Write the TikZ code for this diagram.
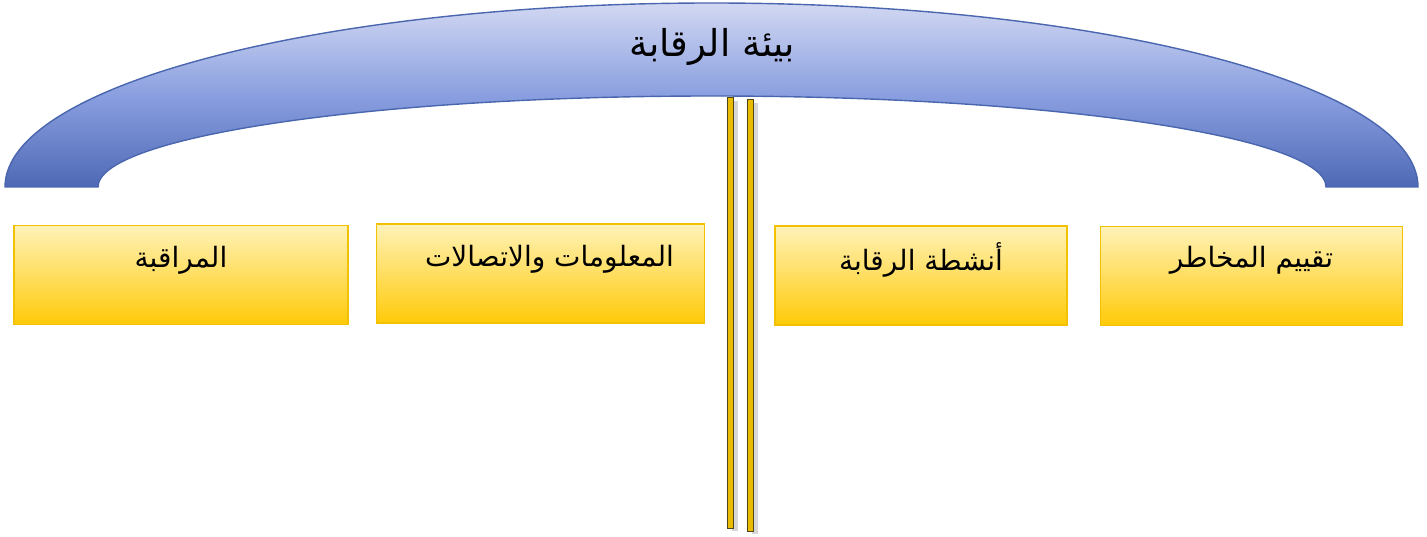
\documentclass[tikz,border=0pt]{standalone}
\usepackage{fontspec}
\newfontfamily\arabicfont[Script=Arabic]{DejaVu Sans}
\TeXXeTstate=1
\usetikzlibrary{calc}
\definecolor{archtop}{HTML}{D2D8F2}
\definecolor{archmid}{HTML}{8A9FE0}
\definecolor{archbot}{HTML}{4E69B5}
\definecolor{archline}{HTML}{4A66AE}
\definecolor{boxtop}{HTML}{FFF2B8}
\definecolor{boxbot}{HTML}{FFCA08}
\definecolor{boxline}{HTML}{F2C200}
\definecolor{pillarfill}{HTML}{E9BC00}
\definecolor{pillarline}{HTML}{4E4416}
\tikzset{
  stage/.style={draw=boxline, line width=1.6pt, top color=boxtop, bottom color=boxbot,
    minimum height=99pt, inner sep=0pt},
  stagetext/.style={font=\arabicfont\fontsize{28}{33}\selectfont, text=black, inner sep=0pt},
  pillar/.style={draw=pillarline, line width=1pt, fill=pillarfill},
  pillarshadow/.style={fill=black!35, opacity=0.45}
}
\begin{document}
\begin{tikzpicture}[x=1pt,y=-1pt]
\useasboundingbox (0,0) rectangle (1427,537);

% arch roof
\shade[top color=archtop, bottom color=archbot, middle color=archmid, draw=archline, line width=1.4pt]
  (5,187) arc[start angle=180, end angle=0, x radius=706.5pt, y radius=184pt]
  -- (1326,187) arc[start angle=0, end angle=180, x radius=614pt, y radius=91pt] -- cycle;
\node[font=\arabicfont\fontsize{37}{44}\selectfont, inner sep=0pt] (roof) at (712,47) {\beginR بيئة الرقابة\endR};

% twin pillars
\fill[pillarshadow] (732,101) rectangle (737.5,531);
\fill[pillarshadow] (752,103) rectangle (757.5,534);
\node[pillar, minimum width=5.5pt, minimum height=430pt, inner sep=0pt] (p1) at (730.5,313) {};
\node[pillar, minimum width=5.5pt, minimum height=431pt, inner sep=0pt] (p2) at (750.5,315.5) {};

% component boxes
\node[stage, minimum width=334pt] (b1) at (181,275) {};
\node[stage, minimum width=328pt] (b2) at (540.5,273.5) {};
\node[stage, minimum width=292pt] (b3) at (921,275.5) {};
\node[stage, minimum width=302pt] (b4) at (1251.5,276) {};

\node[stagetext] (t1) at ($(b1.north)+(0,36)$) {\beginR المراقبة\endR};
\node[stagetext] (t2) at ($(b2.north)+(9,36)$) {\beginR المعلومات والاتصالات\endR};
\node[stagetext] (t3) at ($(b3.north)+(0,35)$) {\beginR أنشطة الرقابة\endR};
\node[stagetext] (t4) at ($(b4.north)+(0,35)$) {\beginR تقييم المخاطر\endR};
\end{tikzpicture}
\end{document}
